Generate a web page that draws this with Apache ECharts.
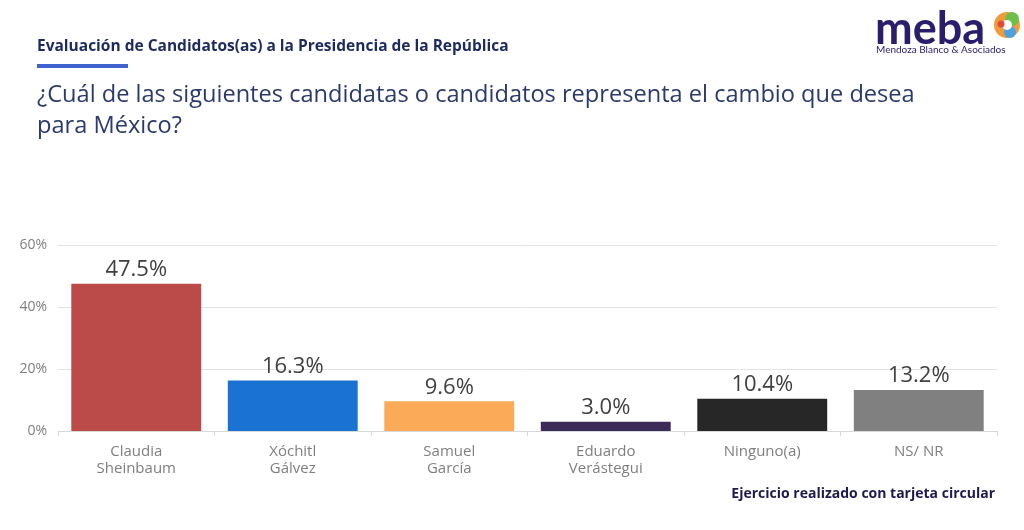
<!DOCTYPE html>
<html><head><meta charset="utf-8">
<script src="https://cdn.jsdelivr.net/npm/echarts@6/dist/echarts.min.js"></script>
<style>html,body{margin:0;padding:0;background:#fff}#c{width:1024px;height:530px}</style>
</head><body><div id="c"></div>
<script>
const categories = ['Claudia\nSheinbaum', 'Xóchitl\nGálvez', 'Samuel\nGarcía', 'Eduardo\nVerástegui', 'Ninguno(a)', 'NS/ NR'];
const values = [47.5, 16.3, 9.6, 3.0, 10.4, 13.2];
const barColors = ['#bb4b48', '#1a73d2', '#fbab58', '#3c2b58', '#272727', '#808080'];
const yTicks = [0, 20, 40, 60];

const chart = echarts.init(document.getElementById('c'), null, {renderer: 'canvas'});
const font = '"Open Sans", Lato, sans-serif';
const lato = 'Lato, "Open Sans", sans-serif';
chart.setOption({
  backgroundColor: '#ffffff',
  animation: false,
  grid: {left: 58, right: 27, top: 245, bottom: 99},
  xAxis: {
    type: 'category',
    data: categories,
    axisLine: {lineStyle: {color: '#d9d9d9', width: 1}},
    axisTick: {show: true, length: 5, lineStyle: {color: '#d9d9d9'}},
    axisLabel: {color: '#7f7f7f', fontSize: 15, fontFamily: font, lineHeight: 17, margin: 12}
  },
  yAxis: {
    type: 'value',
    min: yTicks[0], max: yTicks[yTicks.length - 1], interval: 20,
    axisLine: {show: false},
    axisTick: {show: false},
    splitLine: {lineStyle: {color: '#e3e3e3', width: 1}},
    axisLabel: {color: '#7f7f7f', fontSize: 14, fontFamily: font, margin: 11, formatter: v => v + '%'}
  },
  series: [{
    type: 'bar',
    barWidth: '83%',
    data: values.map((v, i) => ({value: v, itemStyle: {color: barColors[i]}})),
    label: {
      show: true, position: 'top', distance: 3,
      color: '#404040', fontSize: 22, fontFamily: font,
      formatter: p => p.value.toFixed(1) + '%'
    }
  }],
  graphic: [
    {type: 'text', left: 37, top: 39, style: {text: 'Evaluación de Candidatos(as) a la Presidencia de la República', fill: '#1c2a5e', font: 'bold 15.5px ' + font}},
    {type: 'rect', shape: {x: 37, y: 64, width: 91, height: 4}, style: {fill: '#3f62cf'}},
    {type: 'text', left: 37, top: 80, style: {text: '¿Cuál de las siguientes candidatas o candidatos representa el cambio que desea\npara México?', fill: '#2b3a6b', font: '23.6px ' + font, lineHeight: 31}},
    {type: 'text', left: 875, top: 7, style: {text: 'meba', fill: '#2a1d6c', font: 'bold 45px ' + lato}},
    {type: 'text', left: 876, top: 45, style: {text: 'Mendoza Blanco & Asociados', fill: '#2a1d6c', font: '10px ' + lato}},
    {type: 'circle', shape: {cx: 1007, cy: 25, r: 13}, style: {fill: '#f29b3a'}},
    {type: 'circle', shape: {cx: 1012, cy: 19, r: 7}, style: {fill: '#6cbf4b'}},
    {type: 'circle', shape: {cx: 1010, cy: 32, r: 6}, style: {fill: '#4aa3e0'}},
    {type: 'circle', shape: {cx: 1007, cy: 25, r: 5}, style: {fill: '#ffffff'}},
    {type: 'circle', shape: {cx: 1001, cy: 24, r: 3.5}, style: {fill: '#e04a3a'}},
    {type: 'text', right: 29, top: 487, style: {text: 'Ejercicio realizado con tarjeta circular', fill: '#1e1a4d', font: 'bold 14px ' + font}}
  ]
});
</script></body></html>
